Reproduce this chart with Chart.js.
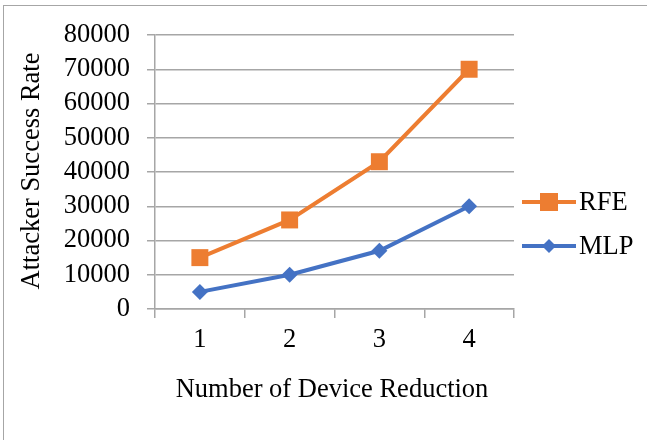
<!DOCTYPE html>
<html>
<head>
<meta charset="utf-8">
<script src="https://cdn.jsdelivr.net/npm/chart.js@4/dist/chart.umd.min.js"></script>
<style>
  html, body { margin: 0; padding: 0; background: #fff; }
  #wrap { width: 647px; height: 440px; position: relative; }
</style>
</head>
<body>
<div id="wrap"><canvas id="c" width="647" height="440"></canvas></div>
<script>
// Device reduction steps on the x axis
const categories = ['1', '2', '3', '4'];
// Series values
const rfeValues = [15000, 26000, 43000, 70000];
const mlpValues = [5000, 10000, 17000, 30000];
// Axis range
const yMin = 0;
const yMax = 80000;
const yStep = 10000;

const FONT = '"Liberation Serif", "Times New Roman", serif';
const FONT_SIZE = 26.5;
const GRID = '#a6a6a6';

// Frame, axis titles and legend drawn on the canvas
const decorations = {
  id: 'decorations',
  afterDraw(chart) {
    const ctx = chart.ctx;
    ctx.save();
    // outer frame
    ctx.strokeStyle = '#a6a6a6';
    ctx.lineWidth = 1;
    ctx.strokeRect(3.5, 5.5, 700, 500);

    ctx.fillStyle = '#000';
    ctx.font = FONT_SIZE + 'px ' + FONT;
    ctx.textAlign = 'center';
    ctx.textBaseline = 'middle';
    // x axis title
    ctx.fillText('Number of Device Reduction', 332, 390);
    // y axis title
    ctx.save();
    ctx.translate(32, 171);
    ctx.rotate(-Math.PI / 2);
    ctx.fillText('Attacker Success Rate', 0, 0);
    ctx.restore();

    // legend: RFE first, then MLP
    const order = [1, 0];
    const rows = [202, 246];
    order.forEach((di, i) => {
      const ds = chart.data.datasets[di];
      const y = rows[i];
      ctx.strokeStyle = ds.borderColor;
      ctx.lineWidth = ds.borderWidth;
      ctx.beginPath();
      ctx.moveTo(522, y);
      ctx.lineTo(576, y);
      ctx.stroke();
      ctx.fillStyle = ds.pointBackgroundColor;
      if (ds.pointStyle === 'rect') {
        ctx.fillRect(540, y - 9, 18, 18);
      } else {
        ctx.beginPath();
        ctx.moveTo(549, y - 7);
        ctx.lineTo(556, y);
        ctx.lineTo(549, y + 7);
        ctx.lineTo(542, y);
        ctx.closePath();
        ctx.fill();
      }
      ctx.fillStyle = '#000';
      ctx.textAlign = 'left';
      ctx.fillText(ds.label, 579, y + 1);
    });
    ctx.restore();
  }
};

new Chart(document.getElementById('c'), {
  type: 'line',
  data: {
    labels: categories,
    datasets: [
      {
        label: 'MLP',
        data: mlpValues,
        borderColor: '#4472c4',
        backgroundColor: '#4472c4',
        pointBackgroundColor: '#4472c4',
        pointBorderColor: '#4472c4',
        borderWidth: 4,
        pointStyle: 'rectRot',
        pointRadius: 8,
        pointBorderWidth: 0,
        tension: 0
      },
      {
        label: 'RFE',
        data: rfeValues,
        borderColor: '#ed7d31',
        backgroundColor: '#ed7d31',
        pointBackgroundColor: '#ed7d31',
        pointBorderColor: '#ed7d31',
        borderWidth: 4,
        pointStyle: 'rect',
        pointRadius: 12,
        pointBorderWidth: 0,
        tension: 0
      }
    ]
  },
  options: {
    responsive: false,
    animation: false,
    devicePixelRatio: 1,
    layout: { padding: { left: 0, top: 35, right: 133, bottom: 0 } },
    plugins: {
      legend: { display: false },
      tooltip: { enabled: false }
    },
    scales: {
      x: {
        type: 'category',
        offset: true,
        grid: {
          offset: true,
          drawOnChartArea: false,
          drawTicks: true,
          tickLength: 9,
          color: GRID,
          lineWidth: 1.5
        },
        border: { display: true, color: GRID, width: 1.5 },
        ticks: {
          color: '#000',
          font: { family: FONT, size: FONT_SIZE },
          padding: 6,
          maxRotation: 0
        },
        afterFit(scale) { scale.height = 131; }
      },
      y: {
        min: yMin,
        max: yMax,
        grid: {
          color: GRID,
          lineWidth: 1.5,
          drawTicks: true,
          tickLength: 8
        },
        border: { display: true, color: GRID, width: 1.5 },
        ticks: {
          stepSize: yStep,
          autoSkip: false,
          color: '#000',
          font: { family: FONT, size: FONT_SIZE },
          padding: 17,
          callback: (v) => String(v)
        },
        afterFit(scale) { scale.width = 155; }
      }
    }
  },
  plugins: [decorations]
});
</script>
</body>
</html>
